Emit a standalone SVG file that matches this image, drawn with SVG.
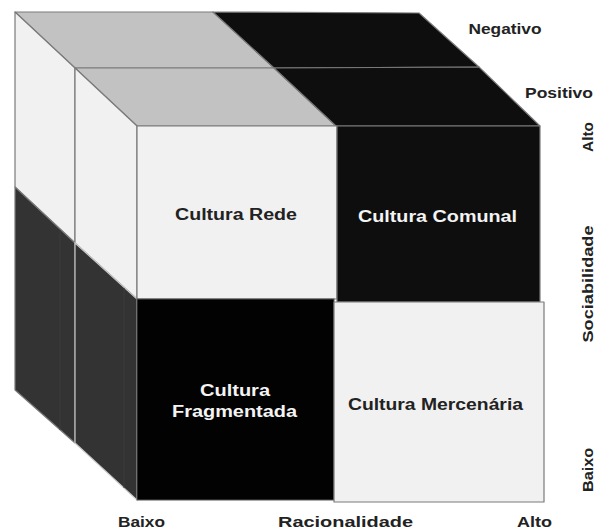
<svg xmlns="http://www.w3.org/2000/svg" width="595" height="530" viewBox="0 0 595 530">
<style>
.f{stroke:#7a7a7a;stroke-width:1.2;stroke-linejoin:round}
.lt{fill:#f1f1f1}
.gr{fill:#c2c2c2}
.bk{fill:#0e0e0e}
.bk0{fill:#020202}
.dk{fill:#333333}
.t{font-family:"Liberation Sans",Arial,sans-serif;font-weight:bold;text-anchor:middle}
.in{font-size:16px}
.ax{font-size:14px;fill:#222}
.dt{fill:#222}
.wt{fill:#f4f4f4}
</style>
<rect width="595" height="530" fill="#ffffff"/>
<g id="back-slice">
  <polygon class="f gr" points="15,12 213,12 274,68 75,68"/>
  <polygon class="f bk" points="213,12 419,13 479,67 274,68"/>
  <polygon class="f lt" points="15,12 75,68 75,243 15,187"/>
  <polygon class="f dk" points="15,187 75,243 75,443 15,390"/>
  <line x1="60" y1="230" x2="60" y2="430" stroke="#3c3c3c" stroke-width="1"/>
</g>
<g id="front-slice">
  <polygon class="f gr" points="75,68 274,68 336,126 137,126"/>
  <polygon class="f bk" points="274,68 479,67 540,126 336,126"/>
  <polygon class="f lt" points="75,68 137,126 137,299 75,243"/>
  <polygon points="75,243 137,299 137,500 75,443" fill="#333333" stroke="#c8c8c8" stroke-width="1.2"/>
  <line x1="124" y1="288" x2="124" y2="488" stroke="#3c3c3c" stroke-width="1"/>
</g>
<g id="cultura-rede">
  <rect class="f lt" x="137" y="126" width="200" height="173"/>
  <text class="t in dt" x="236" y="220" textLength="122" lengthAdjust="spacingAndGlyphs">Cultura Rede</text>
</g>
<g id="cultura-comunal">
  <rect class="f bk" x="337" y="126" width="203" height="176"/>
  <text class="t in wt" x="437.5" y="222" textLength="159" lengthAdjust="spacingAndGlyphs">Cultura Comunal</text>
</g>
<g id="cultura-fragmentada">
  <rect class="bk0" x="137" y="299" width="197" height="201" stroke="#555" stroke-width="1"/>
  <text class="t in wt" x="235" y="396" textLength="70" lengthAdjust="spacingAndGlyphs">Cultura</text>
  <text class="t in wt" x="234.5" y="417" textLength="125" lengthAdjust="spacingAndGlyphs">Fragmentada</text>
</g>
<g id="cultura-mercenaria">
  <rect class="f lt" x="334" y="302" width="210" height="200"/>
  <text class="t in dt" x="435.5" y="410" textLength="175" lengthAdjust="spacingAndGlyphs">Cultura Mercenária</text>
</g>
<g id="labels">
  <text class="t ax" x="505" y="34" textLength="73" lengthAdjust="spacingAndGlyphs">Negativo</text>
  <text class="t ax" x="559" y="98" textLength="68" lengthAdjust="spacingAndGlyphs">Positivo</text>
  <text class="t ax" transform="translate(593,137) rotate(-90)" x="0" y="0" textLength="30" lengthAdjust="spacingAndGlyphs">Alto</text>
  <text class="t ax" transform="translate(593,284) rotate(-90)" x="0" y="0" textLength="117" lengthAdjust="spacingAndGlyphs">Sociabilidade</text>
  <text class="t ax" transform="translate(593,470) rotate(-90)" x="0" y="0" textLength="44" lengthAdjust="spacingAndGlyphs">Baixo</text>
  <text class="t ax" x="141.5" y="527" textLength="47" lengthAdjust="spacingAndGlyphs">Baixo</text>
  <text class="t ax" x="345.5" y="527" textLength="135" lengthAdjust="spacingAndGlyphs">Racionalidade</text>
  <text class="t ax" x="534.5" y="527" textLength="35" lengthAdjust="spacingAndGlyphs">Alto</text>
</g>
</svg>
